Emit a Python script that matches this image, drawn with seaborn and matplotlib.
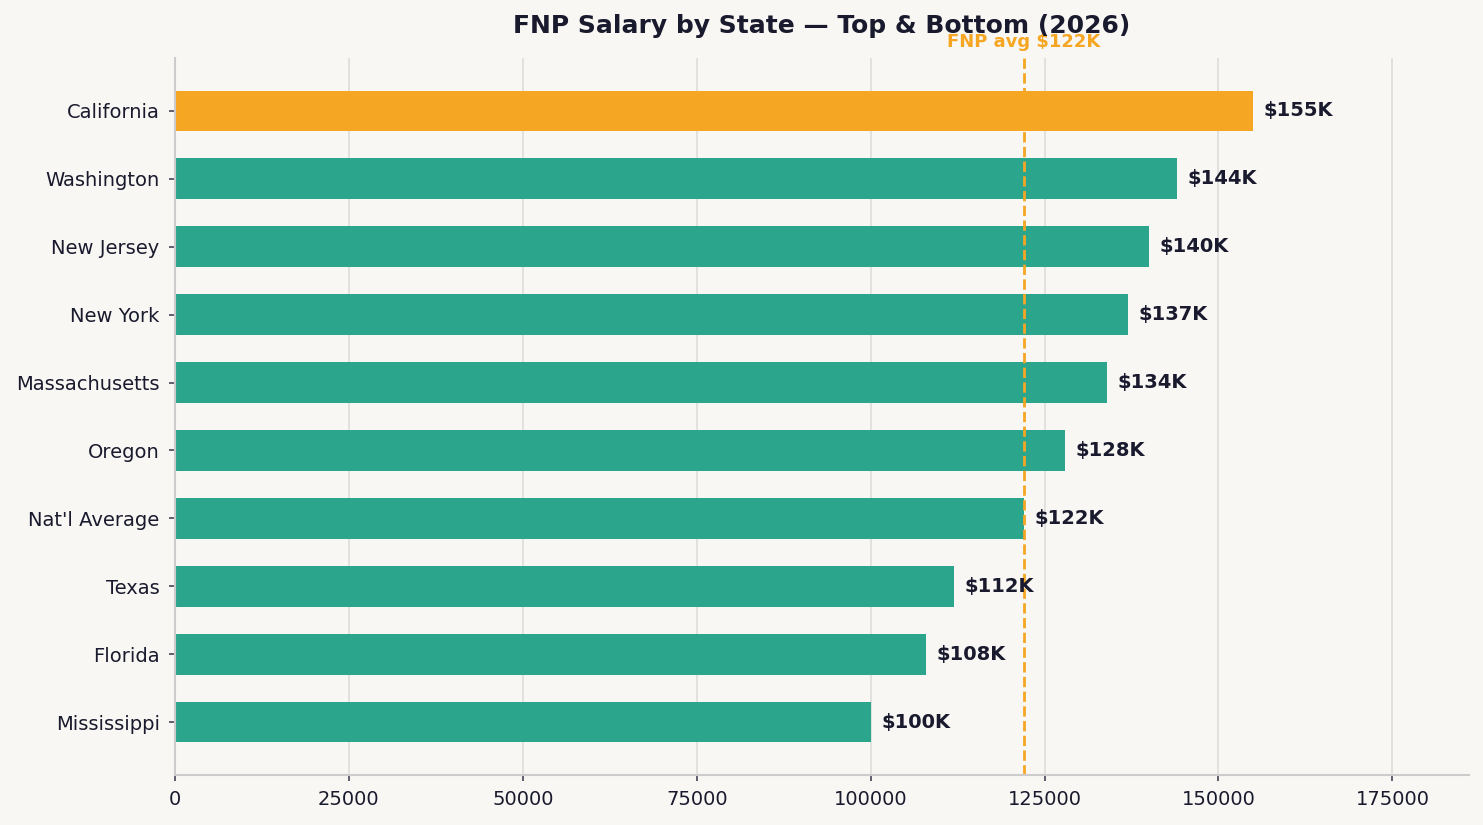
import matplotlib
matplotlib.use("Agg")
import matplotlib.pyplot as plt
import seaborn as sns
import pandas as pd

states = ["California", "Washington", "New Jersey", "New York", "Massachusetts",
          "Oregon", "Nat'l Average", "Texas", "Florida", "Mississippi"]
salaries = [155000, 144000, 140000, 137000, 134000, 128000, 122000, 112000, 108000, 100000]
labels = ["$155K", "$144K", "$140K", "$137K", "$134K", "$128K", "$122K", "$112K", "$108K", "$100K"]
avg_value = 122000
avg_label = "FNP avg $122K"
title = "FNP Salary by State \u2014 Top & Bottom (2026)"

BG = "#f8f7f3"
DARK = "#1a1a2e"
TEAL = "#2ca58d"
ORANGE = "#f5a623"

sns.set_theme(style="white")
plt.rcParams["font.family"] = ["DejaVu Sans"]

df = pd.DataFrame({"state": states, "salary": salaries})
df["grp"] = ["hi" if i == 0 else "base" for i in range(len(states))]

fig, ax = plt.subplots(figsize=(14.83, 8.25), dpi=100)
fig.patch.set_facecolor(BG)
ax.set_facecolor(BG)
fig.subplots_adjust(left=0.118, right=0.9905, top=0.9297, bottom=0.0606)

sns.barplot(data=df, y="state", x="salary", hue="grp", orient="h",
            palette={"hi": ORANGE, "base": TEAL}, dodge=False, width=0.6,
            legend=False, ax=ax, saturation=1, linewidth=0)

ax.set_ylim(len(states) - 1 + 0.78, -0.78)
ax.set_xlim(0, max(salaries) * 1.2)

ax.xaxis.grid(True, color="#dddddd", linewidth=1.2)
ax.set_axisbelow(True)
for s in ["top", "right"]:
    ax.spines[s].set_visible(False)
for s in ["left", "bottom"]:
    ax.spines[s].set_color("#cccccc")
    ax.spines[s].set_linewidth(1.5)

ax.tick_params(axis="both", labelcolor=DARK, labelsize=14, length=4, width=1.2,
               color="#444455", pad=7, left=True, bottom=True)
ax.set_xlabel("")
ax.set_ylabel("")

for i, (v, lab) in enumerate(zip(salaries, labels)):
    ax.text(v + 1500, i, lab, va="center", ha="left", fontsize=14,
            fontweight="bold", color=DARK)

ax.axvline(avg_value, color=ORANGE, linestyle="--", linewidth=2)
ax.text(avg_value, 1.01, avg_label, transform=ax.get_xaxis_transform(),
        ha="center", va="bottom", fontsize=13, fontweight="bold", color=ORANGE)

ax.set_title(title, fontsize=18, fontweight="bold", color=DARK, pad=18)

fig.savefig("out.png", dpi=100, facecolor=BG)
